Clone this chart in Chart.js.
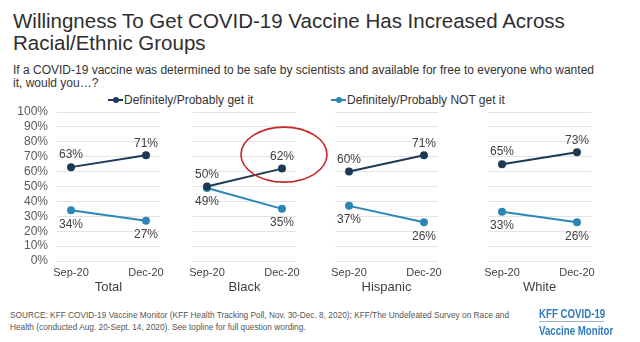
<!DOCTYPE html>
<html>
<head>
<meta charset="utf-8">
<script src="https://cdn.jsdelivr.net/npm/chart.js@4.4.1/dist/chart.umd.min.js"></script>
<style>
body{margin:0;width:640px;height:342px;background:#fff;position:relative;overflow:hidden;font-family:'Liberation Sans',Arial,sans-serif;color:#333}
#title{position:absolute;left:13px;top:10px;font-size:20.5px;line-height:22px;color:#2e2e2e;white-space:nowrap}
#sub{position:absolute;left:13px;top:64px;font-size:12px;line-height:13px;color:#333;white-space:nowrap}
.leg{position:absolute;top:93px;font-size:12px;line-height:14px;color:#333;white-space:nowrap}
.leg b{display:inline-block;position:relative;width:15px;height:2px;vertical-align:middle;margin-right:1px;top:-1px}
.leg b:after{content:'';position:absolute;left:5px;top:-2px;width:6px;height:6px;border-radius:50%;background:inherit}
canvas{position:absolute;top:104px}
#src{position:absolute;left:10px;top:309px;font-size:8.3px;line-height:12px;color:#555;white-space:nowrap}
#logo{position:absolute;left:539px;top:306px;color:#2f7bbf;font-weight:bold;white-space:nowrap;transform-origin:0 0;transform:scaleX(0.745)}
#logo div{font-size:13px;line-height:15px}
#logo .rule{height:1px;background:#9bb3c9;width:87px;margin:0 0 1px 0}
</style>
</head>
<body>
<div id="title">Willingness To Get COVID-19 Vaccine Has Increased Across<br>Racial/Ethnic Groups</div>
<div id="sub">If a COVID-19 vaccine was determined to be safe by scientists and available for free to everyone who wanted<br>it, would you…?</div>
<div class="leg" style="left:108px"><b style="background:#1c3a56"></b>Definitely/Probably get it</div>
<div class="leg" style="left:331px"><b style="background:#2c86b6"></b>Definitely/Probably NOT get it</div>

<canvas id="c0" width="190" height="194" style="left:0px"></canvas>
<canvas id="c1" width="163" height="194" style="left:173px"></canvas>
<canvas id="c2" width="163" height="194" style="left:315px"></canvas>
<canvas id="c3" width="163" height="194" style="left:468px"></canvas>

<div id="src">SOURCE: KFF COVID-19 Vaccine Monitor (KFF Health Tracking Poll, Nov. 30-Dec. 8, 2020); KFF/The Undefeated Survey on Race and<br>Health (conducted Aug. 20-Sept. 14, 2020). See topline for full question wording.</div>
<div id="logo"><div>KFF COVID-19</div><div class="rule"></div><div>Vaccine Monitor</div></div>

<script>
// data
const groups = ['Total', 'Black', 'Hispanic', 'White'];
const waves = ['Sep-20', 'Dec-20'];
const getIt = [[63, 71], [50, 62], [60, 71], [65, 73]];
const notGetIt = [[34, 27], [49, 35], [37, 26], [33, 26]];
const seriesNames = ['Definitely/Probably get it', 'Definitely/Probably NOT get it'];

Chart.defaults.font.family = "'Liberation Sans', Arial, sans-serif";
Chart.defaults.color = '#444';

const GET_COLOR = '#1c3a56';
const NOT_COLOR = '#2c86b6';

// percent labels next to each point
const pctLabels = {
  id: 'pctLabels',
  afterDatasetsDraw(chart) {
    const ctx = chart.ctx;
    ctx.save();
    ctx.font = "12px 'Liberation Sans', Arial, sans-serif";
    ctx.fillStyle = '#404040';
    ctx.textAlign = 'center';
    ctx.textBaseline = 'middle';
    chart.data.datasets.forEach((ds, i) => {
      chart.getDatasetMeta(i).data.forEach((pt, j) => {
        ctx.fillText(ds.data[j].y + '%', pt.x, pt.y + ds.labelShift);
      });
    });
    ctx.restore();
  }
};

// red ring around the Black / Dec-20 "get it" point
const ring = {
  id: 'ring',
  afterDraw(chart, args, opts) {
    if (!opts.show) return;
    const pt = chart.getDatasetMeta(0).data[1];
    const ctx = chart.ctx;
    ctx.save();
    ctx.strokeStyle = '#c8262c';
    ctx.lineWidth = 1.6;
    ctx.beginPath();
    ctx.ellipse(pt.x + 2, pt.y - 14, 43, 27.5, 0, 0, Math.PI * 2);
    ctx.stroke();
    ctx.restore();
  }
};

// keep every panel's plot box the same size, whatever the labels need
function noPad(s) {
  s.paddingTop = 0; s.paddingBottom = 0;
  s.paddingLeft = 0; s.paddingRight = 0;
}

let charts = [];

groups.forEach((g, gi) => {
  const first = gi === 0;
  const c = new Chart(document.getElementById('c' + gi), {
    type: 'line',
    data: {
      datasets: [{
        label: seriesNames[0],
        data: waves.map((w, i) => ({x: i, y: getIt[gi][i]})),
        borderColor: GET_COLOR,
        backgroundColor: GET_COLOR,
        borderWidth: 2,
        pointRadius: 3,
        labelShift: -12
      }, {
        label: seriesNames[1],
        data: waves.map((w, i) => ({x: i, y: notGetIt[gi][i]})),
        borderColor: NOT_COLOR,
        backgroundColor: NOT_COLOR,
        borderWidth: 2,
        pointRadius: 3,
        labelShift: 14
      }]
    },
    options: {
      responsive: false,
      animation: false,
      layout: {padding: {top: 8, left: first ? 0 : 20, right: first ? 30 : 40, bottom: 0}},
      scales: {
        x: {
          type: 'linear',
          min: -0.187,
          max: 1.187,
          afterBuildTicks: s => { s.ticks = waves.map((w, i) => ({value: i})); },
          afterFit: s => { s.height = 37; noPad(s); },
          ticks: {
            callback: v => waves[v],
            font: {size: 11},
            color: '#444',
            padding: 5,
            maxRotation: 0,
            autoSkip: false
          },
          grid: {display: false, drawTicks: false},
          border: {display: false},
          title: {
            display: true,
            text: g,
            font: {size: 13},
            color: '#404040',
            padding: {top: 0, bottom: 3}
          }
        },
        y: {
          min: 0,
          max: 100,
          afterFit: s => { s.width = first ? 57 : 0; noPad(s); },
          ticks: {
            display: first,
            stepSize: 10,
            autoSkip: false,
            callback: v => v + '%',
            font: {size: 12},
            color: '#595959',
            padding: 9
          },
          grid: {color: '#e4e4e4', drawTicks: false},
          border: {display: false}
        }
      },
      plugins: {
        legend: {display: false},
        tooltip: {enabled: false},
        ring: {show: g === 'Black'}
      }
    },
    plugins: [pctLabels, ring]
  });
  charts.push(c);
});
</script>
</body>
</html>
